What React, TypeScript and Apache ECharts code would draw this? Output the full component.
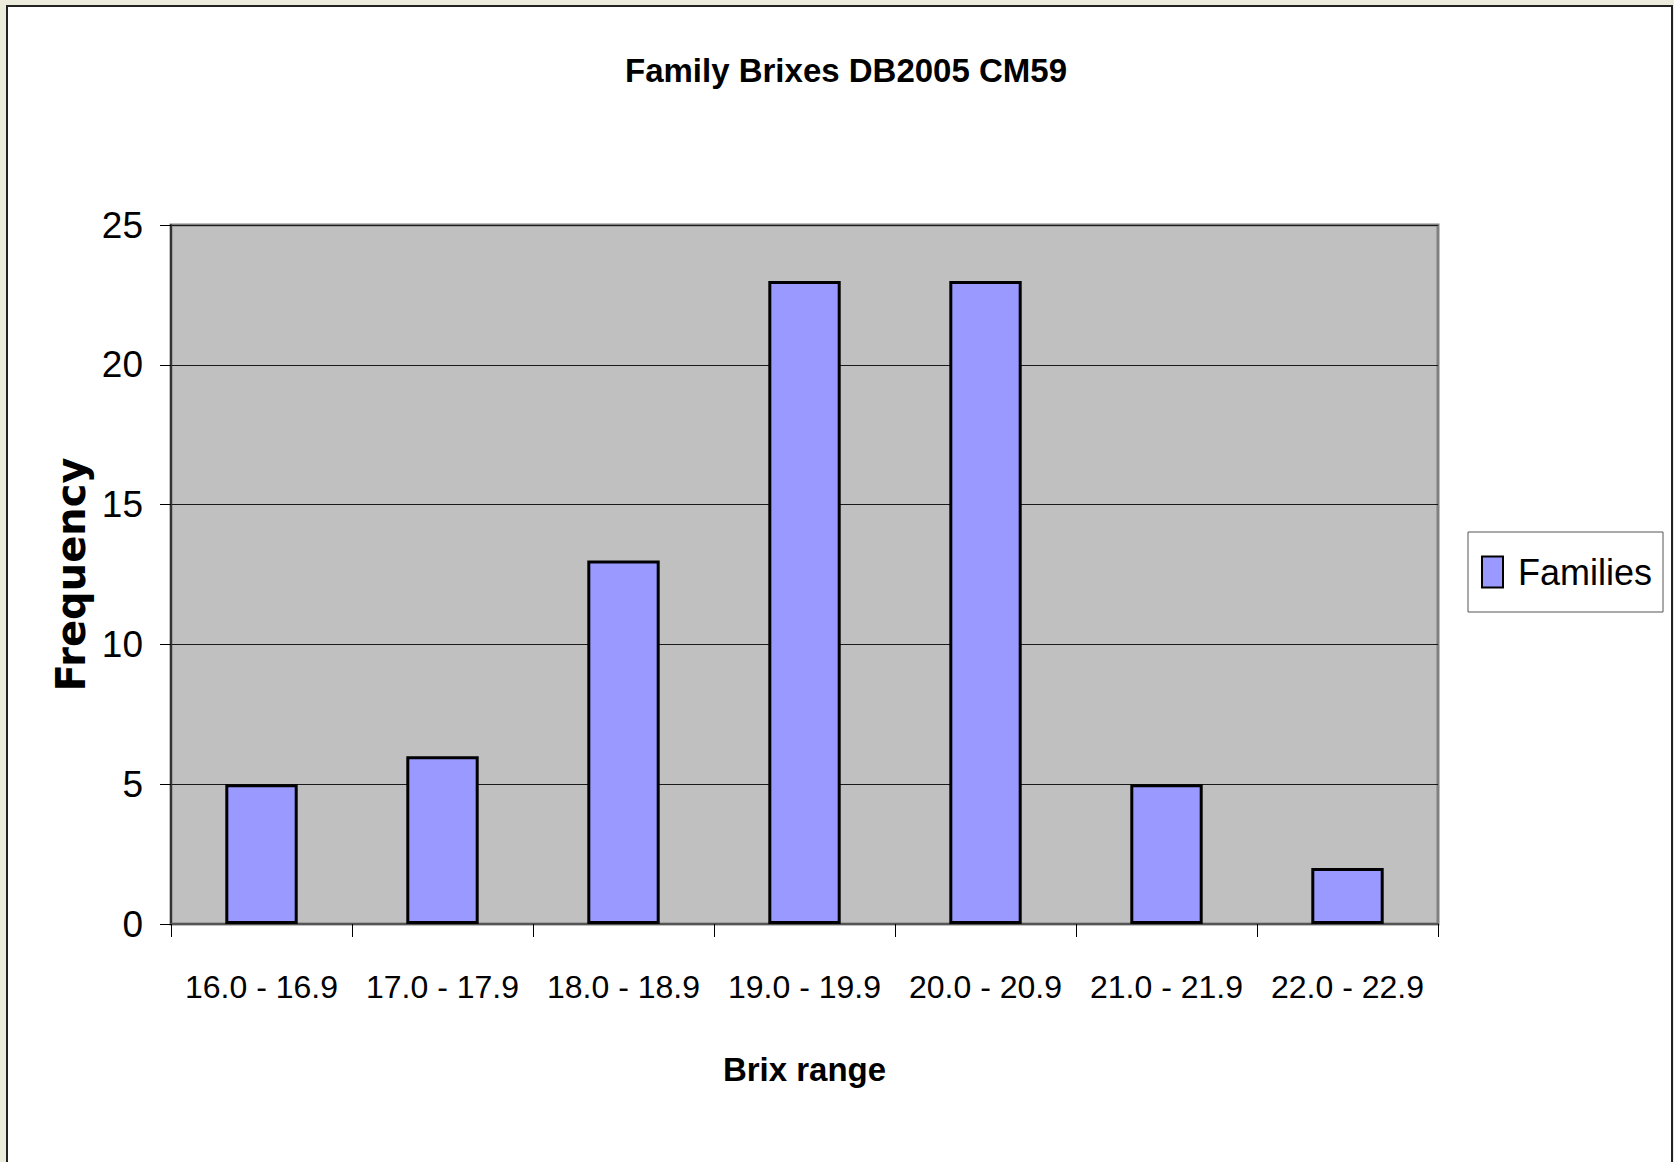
import React, { useEffect, useRef } from "react";
import * as echarts from "echarts";

const categories = ["16.0 - 16.9", "17.0 - 17.9", "18.0 - 18.9", "19.0 - 19.9", "20.0 - 20.9", "21.0 - 21.9", "22.0 - 22.9"];
const families = [5, 6, 13, 23, 23, 5, 2];
const yTicks = [0, 5, 10, 15, 20, 25];

const SANS = "'Liberation Sans', Arial, sans-serif";

export default function App() {
  const ref = useRef<HTMLDivElement>(null);
  useEffect(() => {
    if (!ref.current) return;
    const chart = echarts.init(ref.current, null, { renderer: "svg" });
    chart.setOption({
      animation: false,
      backgroundColor: "#ecebdc",
      graphic: [
        {
          type: "rect",
          z: -10,
          silent: true,
          shape: { x: 7, y: 6, width: 1665, height: 1170 },
          style: { fill: "#ffffff", stroke: "#222222", lineWidth: 2 },
        },
      ],
      title: {
        text: "Family Brixes DB2005 CM59",
        left: 841,
        top: 49,
        textAlign: "center",
        textStyle: { fontFamily: SANS, fontWeight: "bold", fontSize: 33, color: "#000" },
      },
      legend: {
        left: 1468,
        top: 532,
        orient: "vertical",
        backgroundColor: "#ffffff",
        borderColor: "#555555",
        borderWidth: 1,
        borderRadius: 0,
        padding: [22, 11, 22, 13],
        itemWidth: 21,
        itemHeight: 31,
        icon: "rect",
        textStyle: { fontFamily: SANS, fontSize: 36, color: "#000", padding: [0, 0, 0, 10] },
        data: ["Families"],
      },
      grid: {
        left: 171,
        top: 225,
        right: 236,
        bottom: 238,
        show: true,
        backgroundColor: "#C0C0C0",
        borderColor: "#808080",
        borderWidth: 3,
      },
      xAxis: {
        type: "category",
        data: categories,
        name: "Brix range",
        nameLocation: "middle",
        nameGap: 129,
        nameTextStyle: { fontFamily: SANS, fontWeight: "bold", fontSize: 33, color: "#000" },
        axisLine: { show: true, lineStyle: { color: "#555555", width: 2 } },
        axisTick: { show: true, length: 13, lineStyle: { color: "#000", width: 1 } },
        axisLabel: { fontFamily: SANS, fontSize: 32, color: "#000", margin: 47, interval: 0 },
        splitLine: { show: false },
      },
      yAxis: {
        type: "value",
        min: 0,
        max: 25,
        interval: 5,
        name: "Frequency",
        nameLocation: "middle",
        nameRotate: 90,
        nameGap: 72,
        nameTextStyle: { fontFamily: "'DejaVu Sans', sans-serif", fontWeight: "bold", fontSize: 40, color: "#000" },
        axisLine: { show: true, lineStyle: { color: "#333333", width: 2 } },
        axisTick: { show: true, length: 11, lineStyle: { color: "#000", width: 1 } },
        axisLabel: {
          fontFamily: SANS,
          fontSize: 37,
          color: "#000",
          margin: 28,
          formatter: (v: number) => (yTicks.includes(v) ? String(v) : ""),
        },
        splitLine: { show: true, lineStyle: { color: "#1a1a1a", width: 1 } },
      },
      series: [
        {
          name: "Families",
          type: "bar",
          data: families,
          barCategoryGap: "60%",
          itemStyle: { color: "#9999FF", borderColor: "#000000", borderWidth: 3 },
        },
      ],
    });
    return () => chart.dispose();
  }, []);
  return <div ref={ref} style={{ position: "fixed", left: 0, top: 0, width: 1674, height: 1162 }} />;
}
